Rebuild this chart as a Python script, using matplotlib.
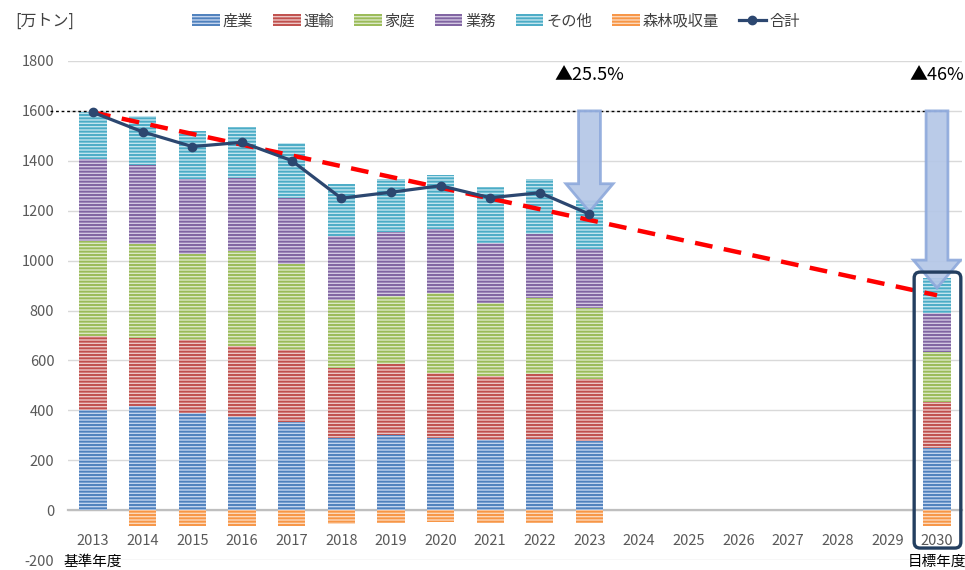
import matplotlib.pyplot as plt
import numpy as np
from matplotlib.patches import FancyArrow, FancyBboxPatch, Patch
from matplotlib.lines import Line2D

plt.rcParams['font.family'] = ['Noto Sans CJK JP', 'DejaVu Sans']
plt.rcParams['axes.unicode_minus'] = False
plt.rcParams['hatch.linewidth'] = 1.4

# data (万トン)
years = ['2013', '2014', '2015', '2016', '2017', '2018', '2019', '2020',
         '2021', '2022', '2023', '2024', '2025', '2026', '2027', '2028', '2029', '2030']
industry  = [402, 418, 390, 373, 354, 291, 301, 291, 283, 287, 277, 0, 0, 0, 0, 0, 0, 247]
transport = [297, 273, 292, 286, 286, 280, 284, 257, 254, 257, 247, 0, 0, 0, 0, 0, 0, 187]
household = [379, 374, 344, 378, 348, 272, 274, 323, 294, 305, 287, 0, 0, 0, 0, 0, 0, 201]
business  = [328, 318, 300, 296, 264, 257, 257, 254, 238, 258, 235, 0, 0, 0, 0, 0, 0, 154]
other     = [188, 197, 195, 204, 221, 207, 211, 218, 227, 219, 197, 0, 0, 0, 0, 0, 0, 140]
forest    = [0, -62, -63, -63, -63, -57, -53, -48, -50, -50, -53, 0, 0, 0, 0, 0, 0, -62]
total     = [1594, 1516, 1457, 1474, 1401, 1250, 1274, 1300, 1252, 1272, 1186]
target_line = [1594, 861]
labels = ['産業', '運輸', '家庭', '業務', 'その他', '森林吸収量']
colors = ['#4f81bd', '#c0504d', '#9bbb59', '#8064a2', '#4bacc6', '#f79646']
tints = ['#c3d4ee', '#ecc6c5', '#dbe8c6', '#d3c8e2', '#c2e4ee', '#fcd8bb']

fig = plt.figure(figsize=(9.65, 5.70), dpi=100)
ax = fig.add_axes([0.0707, 0.0175, 0.926, 0.8755])

x = np.arange(len(years))
w = 0.55
bottom = np.zeros(len(years))
for vals, lab, c, t in zip([industry, transport, household, business, other], labels, colors, tints):
    ax.bar(x, vals, w, bottom=bottom, facecolor=t, edgecolor=c, linewidth=0,
           hatch='-----', zorder=2)
    bottom += np.array(vals)
ax.bar(x, forest, w, facecolor=tints[5], edgecolor=colors[5], linewidth=0,
       hatch='-----', zorder=2)

ax.set_xlim(-0.5, 17.5)
ax.set_ylim(-200, 1800)
ax.set_yticks(np.arange(-200, 1801, 200))
ax.set_xticks(x)
ax.set_xticklabels(years)
ax.grid(axis='y', color='#d9d9d9', linewidth=1, zorder=0)
ax.set_axisbelow(True)
for s in ['top', 'right', 'left']:
    ax.spines[s].set_visible(False)
ax.spines['bottom'].set_position(('data', 0))
ax.spines['bottom'].set_color('#bfbfbf')
ax.spines['bottom'].set_linewidth(1.6)
ax.spines['bottom'].set_zorder(1)
ax.tick_params(axis='both', length=0, labelsize=10.5, colors='#595959')
ax.tick_params(axis='x', pad=17)
ax.tick_params(axis='y', pad=10)

# 1600 baseline
ax.plot([-0.87, 17.2], [1600, 1600], color='black', linestyle=(0, (2, 2)),
        linewidth=1, clip_on=False, zorder=3)

# arrows
for xi, tip in [(10, 1196), (17, 890)]:
    arr = FancyArrow(xi, 1600, 0, tip - 1600, width=0.44, head_width=0.95,
                     head_length=112, length_includes_head=True,
                     facecolor='#b4c7e7', edgecolor='#8faadc', linewidth=2,
                     alpha=0.92, zorder=4)
    ax.add_patch(arr)

# target reduction line
ax.plot([0, 17], target_line, color='#ff0000', linewidth=3.2,
        linestyle=(0, (4, 2.6)), zorder=5)

# total line
ax.plot(x[:len(total)], total, color='#2c4770', linewidth=2.3, marker='o',
        markersize=6, zorder=6)

# box around 2030
box = FancyBboxPatch((16.54, -152), 0.94, 1106, boxstyle='round,pad=0,rounding_size=0.12',
                     mutation_aspect=199, facecolor='none', edgecolor='#243f60',
                     linewidth=2.4, clip_on=False, zorder=7)
ax.add_patch(box)

ax.text(10, 1745, '▲25.5%', ha='center', va='center', fontsize=13, color='black')
ax.text(17, 1745, '▲46%', ha='center', va='center', fontsize=13, color='black')
ax.text(0, -208, '基準年度', ha='center', va='center', fontsize=10.5, color='black', clip_on=False)
ax.text(17, -208, '目標年度', ha='center', va='center', fontsize=10.5, color='black', clip_on=False)

fig.text(0.016, 0.963, '[万トン]', ha='left', va='center', fontsize=11.5, color='#404040')

handles = [Patch(facecolor=t, edgecolor=c, linewidth=0, hatch='-----') for c, t in zip(colors, tints)]
handles.append(Line2D([], [], color='#2c4770', linewidth=2.3, marker='o', markersize=6))
fig.legend(handles, labels + ['合計'], loc='center', bbox_to_anchor=(0.514, 0.963), ncol=7,
           frameon=False, fontsize=11, handlelength=1.8, handleheight=0.8,
           handletextpad=0.2, columnspacing=1.3, labelcolor='#404040')

fig.savefig('out.png', dpi=100)
